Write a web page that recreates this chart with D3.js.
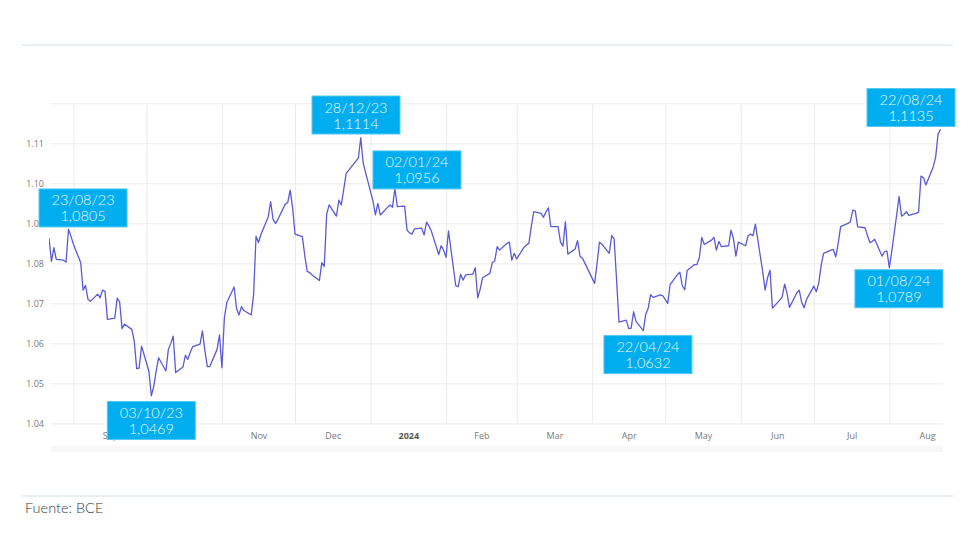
<!DOCTYPE html>
<html><head><meta charset="utf-8">
<script src="https://cdn.jsdelivr.net/npm/d3@7"></script>
<style>
body{margin:0;background:#fff}
svg{display:block}
</style>
</head><body>
<svg id="chart" width="980" height="560"></svg>
<script>
// ---------------- DATA ----------------
const dates = [
"2023-08-22","2023-08-23","2023-08-24","2023-08-25","2023-08-28","2023-08-29","2023-08-30","2023-08-31",
"2023-09-01","2023-09-04","2023-09-05","2023-09-06","2023-09-07","2023-09-08","2023-09-11","2023-09-12","2023-09-13","2023-09-14","2023-09-15","2023-09-18","2023-09-19","2023-09-20","2023-09-21","2023-09-22","2023-09-25","2023-09-26","2023-09-27","2023-09-28","2023-09-29",
"2023-10-02","2023-10-03","2023-10-04","2023-10-05","2023-10-06","2023-10-09","2023-10-10","2023-10-11","2023-10-12","2023-10-13","2023-10-16","2023-10-17","2023-10-18","2023-10-19","2023-10-20","2023-10-23","2023-10-24","2023-10-25","2023-10-26","2023-10-27","2023-10-30","2023-10-31",
"2023-11-01","2023-11-02","2023-11-03","2023-11-06","2023-11-07","2023-11-08","2023-11-09","2023-11-10","2023-11-13","2023-11-14","2023-11-15","2023-11-16","2023-11-17","2023-11-20","2023-11-21","2023-11-22","2023-11-23","2023-11-24","2023-11-27","2023-11-28","2023-11-29","2023-11-30",
"2023-12-01","2023-12-04","2023-12-05","2023-12-06","2023-12-07","2023-12-08","2023-12-11","2023-12-12","2023-12-13","2023-12-14","2023-12-15","2023-12-18","2023-12-19","2023-12-20","2023-12-21","2023-12-22","2023-12-27","2023-12-28","2023-12-29",
"2024-01-02","2024-01-03","2024-01-04","2024-01-05","2024-01-08","2024-01-09","2024-01-10","2024-01-11","2024-01-12","2024-01-15","2024-01-16","2024-01-17","2024-01-18","2024-01-19","2024-01-22","2024-01-23","2024-01-24","2024-01-25","2024-01-26","2024-01-29","2024-01-30","2024-01-31",
"2024-02-01","2024-02-02","2024-02-05","2024-02-06","2024-02-07","2024-02-08","2024-02-09","2024-02-12","2024-02-13","2024-02-14","2024-02-15","2024-02-16","2024-02-19","2024-02-20","2024-02-21","2024-02-22","2024-02-23","2024-02-26","2024-02-27","2024-02-28","2024-02-29",
"2024-03-01","2024-03-04","2024-03-05","2024-03-06","2024-03-07","2024-03-08","2024-03-11","2024-03-12","2024-03-13","2024-03-14","2024-03-15","2024-03-18","2024-03-19","2024-03-20","2024-03-21","2024-03-22","2024-03-25","2024-03-26","2024-03-27","2024-03-28",
"2024-04-02","2024-04-03","2024-04-04","2024-04-05","2024-04-08","2024-04-09","2024-04-10","2024-04-11","2024-04-12","2024-04-15","2024-04-16","2024-04-17","2024-04-18","2024-04-19","2024-04-22","2024-04-23","2024-04-24","2024-04-25","2024-04-26","2024-04-29","2024-04-30",
"2024-05-02","2024-05-03","2024-05-06","2024-05-07","2024-05-08","2024-05-09","2024-05-10","2024-05-13","2024-05-14","2024-05-15","2024-05-16","2024-05-17","2024-05-20","2024-05-21","2024-05-22","2024-05-23","2024-05-24","2024-05-27","2024-05-28","2024-05-29","2024-05-30","2024-05-31",
"2024-06-03","2024-06-04","2024-06-05","2024-06-06","2024-06-07","2024-06-10","2024-06-11","2024-06-12","2024-06-13","2024-06-14","2024-06-17","2024-06-18","2024-06-19","2024-06-20","2024-06-21","2024-06-24","2024-06-25","2024-06-26","2024-06-27","2024-06-28",
"2024-07-01","2024-07-02","2024-07-03","2024-07-04","2024-07-05","2024-07-08","2024-07-09","2024-07-10","2024-07-11","2024-07-12","2024-07-15","2024-07-16","2024-07-17","2024-07-18","2024-07-19","2024-07-22","2024-07-23","2024-07-24","2024-07-25","2024-07-26","2024-07-29","2024-07-30","2024-07-31",
"2024-08-01","2024-08-02","2024-08-05","2024-08-06","2024-08-07","2024-08-08","2024-08-09","2024-08-12","2024-08-13","2024-08-14","2024-08-15","2024-08-16","2024-08-19","2024-08-20","2024-08-21","2024-08-22"
];
const rates = [
1.0863,1.0805,1.0839,1.0810,1.0808,1.0803,1.0885,1.0868,
1.0848,1.0802,1.0733,1.0745,1.0710,1.0705,1.0723,1.0714,1.0733,1.0730,1.0660,1.0663,1.0713,1.0703,1.0637,1.0648,1.0635,1.0606,1.0537,1.0538,1.0593,
1.0531,1.0469,1.0492,1.0531,1.0564,1.0531,1.0585,1.0600,1.0618,1.0527,1.0541,1.0570,1.0560,1.0578,1.0592,1.0598,1.0631,1.0582,1.0542,1.0542,1.0585,1.0621,
1.0539,1.0664,1.0702,1.0741,1.0687,1.0671,1.0692,1.0682,1.0671,1.0722,1.0868,1.0852,1.0872,1.0916,1.0954,1.0910,1.0900,1.0910,1.0948,1.0952,1.0983,1.0940,
1.0873,1.0867,1.0820,1.0780,1.0777,1.0771,1.0757,1.0802,1.0792,1.0923,1.0946,1.0918,1.0958,1.0946,1.0985,1.1025,1.1063,1.1114,1.1050,
1.0956,1.0921,1.0950,1.0921,1.0940,1.0946,1.0940,1.0987,1.0942,1.0943,1.0883,1.0876,1.0873,1.0886,1.0888,1.0871,1.0903,1.0893,1.0880,1.0822,1.0844,1.0833,
1.0815,1.0881,1.0744,1.0742,1.0773,1.0758,1.0771,1.0773,1.0789,1.0714,1.0735,1.0764,1.0775,1.0802,1.0806,1.0842,1.0833,1.0850,1.0853,1.0808,1.0825,
1.0811,1.0840,1.0846,1.0850,1.0892,1.0929,1.0925,1.0915,1.0928,1.0939,1.0892,1.0892,1.0853,1.0843,1.0904,1.0823,1.0836,1.0857,1.0818,1.0813,
1.0750,1.0800,1.0853,1.0848,1.0825,1.0869,1.0861,1.0760,1.0653,1.0658,1.0637,1.0638,1.0679,1.0655,1.0632,1.0673,1.0688,1.0722,1.0715,1.0721,1.0719,
1.0700,1.0747,1.0772,1.0778,1.0744,1.0734,1.0782,1.0797,1.0797,1.0815,1.0865,1.0847,1.0858,1.0865,1.0833,1.0855,1.0842,1.0844,1.0883,1.0861,1.0818,1.0853,
1.0844,1.0869,1.0873,1.0869,1.0898,1.0780,1.0733,1.0764,1.0783,1.0688,1.0708,1.0716,1.0748,1.0725,1.0690,1.0726,1.0733,1.0703,1.0689,1.0710,
1.0743,1.0729,1.0750,1.0795,1.0825,1.0833,1.0835,1.0816,1.0850,1.0892,1.0900,1.0904,1.0933,1.0931,1.0891,1.0889,1.0870,1.0852,1.0855,1.0860,1.0818,1.0829,1.0831,
1.0789,1.0830,1.0967,1.0918,1.0922,1.0929,1.0920,1.0925,1.0928,1.1018,1.1014,1.0996,1.1041,1.1065,1.1123,1.1135
];
const yTickValues = [1.04,1.05,1.06,1.07,1.08,1.09,1.10,1.11];
const monthLabels = ["Sep","Oct","Nov","Dec","2024","Feb","Mar","Apr","May","Jun","Jul","Aug"];
const annDates  = ["2023-08-23","2023-10-03","2023-12-28","2024-01-02","2024-04-22","2024-08-01","2024-08-22"];
const annValues = [1.0805,1.0469,1.1114,1.0956,1.0632,1.0789,1.1135];
const annDateLabels  = ["23/08/23","03/10/23","28/12/23","02/01/24","22/04/24","01/08/24","22/08/24"];
const annValueLabels = ["1,0805","1,0469","1,1114","1,0956","1,0632","1,0789","1,1135"];
const sourceText = "Fuente: BCE";

// ---------------- LAYOUT ----------------
const W = 980, H = 560;
const plot = {left:51, right:943, top:103.3, bottom:423.4};
// annotation box centre offsets from the point (px)
const annOffsets = [[31.6,-53.4],[0,24.7],[-4.8,-22.7],[44,-31],[4.6,24],[9.6,21],[-29.5,-21.8]];
const boxW = 88, boxH = 38;

const parse = d3.utcParse("%Y-%m-%d");
const series = dates.map((d,i)=>({date:parse(d), value:rates[i]}));

const x = d3.scaleUtc()
  .domain([parse("2023-08-22"), parse("2024-08-22")])
  .range([49, 940.5]);
const y = d3.scaleLinear().domain([1.04,1.12]).range([plot.bottom, plot.top]);

const svg = d3.select("#chart");
svg.append("rect").attr("width",W).attr("height",H).attr("fill","#fff");

// frame lines
svg.append("line").attr("x1",22).attr("x2",953).attr("y1",45).attr("y2",45)
  .attr("stroke","#d3e3df").attr("stroke-width",1.2);
svg.append("line").attr("x1",22).attr("x2",953).attr("y1",496).attr("y2",496)
  .attr("stroke","#d3e3df").attr("stroke-width",1.2);

// range strip under the axis
svg.append("rect").attr("x",plot.left).attr("y",446).attr("width",plot.right-plot.left).attr("height",6)
  .attr("fill","#f7f7f7");

// horizontal grid + y labels
const yAxis = d3.axisLeft(y)
  .tickValues(yTickValues.concat([1.12]))
  .tickSize(-(plot.right-plot.left))
  .tickPadding(7)
  .tickFormat(v => yTickValues.some(t=>Math.abs(t-v)<1e-9) ? d3.format(".2f")(v) : "");
const gy = svg.append("g").attr("transform",`translate(${plot.left},0)`).call(yAxis);
gy.select(".domain").remove();
gy.selectAll(".tick line").attr("stroke","#ebebeb").attr("stroke-width",1);
gy.selectAll(".tick text").attr("fill","#7a7a7a").style("font-family","'Open Sans', sans-serif").style("font-size","9px");

// vertical grid at month starts
const monthStarts = d3.utcMonth.range(parse("2023-09-01"), parse("2024-08-02"));
const gx = svg.append("g").attr("transform",`translate(0,${plot.bottom})`)
  .call(d3.axisBottom(x).tickValues(monthStarts).tickSize(-(plot.bottom-plot.top)).tickFormat(""));
gx.select(".domain").remove();
gx.selectAll(".tick line").attr("stroke","#ebebeb").attr("stroke-width",1);

// month labels at mid-month
const mids = monthStarts.map(m => new Date((+m + +d3.utcMonth.offset(m,1))/2));
const gl = svg.append("g").attr("transform",`translate(0,${plot.bottom})`)
  .call(d3.axisBottom(x).tickValues(mids).tickSize(0).tickPadding(9.5).tickFormat((d,i)=>monthLabels[i]));
gl.select(".domain").remove();
gl.selectAll(".tick text").style("font-family","'Open Sans', sans-serif").style("font-size","9px")
  .style("font-weight",(d,i)=>monthLabels[i]==="2024"?"bold":"normal")
  .attr("fill",(d,i)=>monthLabels[i]==="2024"?"#555":"#7a7a7a");

// line
svg.append("clipPath").attr("id","clip").append("rect")
  .attr("x",plot.left-2).attr("y",plot.top-5).attr("width",plot.right-plot.left+4).attr("height",plot.bottom-plot.top+10);
svg.append("path").datum(series)
  .attr("clip-path","url(#clip)")
  .attr("fill","none").attr("stroke","#5a5ad8").attr("stroke-width",1.3).attr("stroke-linejoin","round")
  .attr("d", d3.line().x(d=>x(d.date)).y(d=>y(d.value)));

// annotations
const ann = svg.append("g");
annDates.forEach((d,i)=>{
  const cx = x(parse(d)) + annOffsets[i][0];
  const cy = y(annValues[i]) + annOffsets[i][1];
  const g = ann.append("g").attr("transform",`translate(${cx},${cy})`);
  g.append("rect").attr("x",-boxW/2).attr("y",-boxH/2).attr("width",boxW).attr("height",boxH)
    .attr("fill","#00aeef").attr("stroke","#55c8f3").attr("stroke-width",1);
  const t = g.append("text").attr("text-anchor","middle").attr("fill","#eaf7fd")
    .style("font-family","Lato, sans-serif").style("font-weight","300").style("font-size","14.5px");
  t.append("tspan").attr("x",0).attr("y",-2.5).text(annDateLabels[i]);
  t.append("tspan").attr("x",0).attr("y",13.5).text(annValueLabels[i]);
});

// source
svg.append("text").attr("x",25).attr("y",513).text(sourceText)
  .attr("fill","#3a3a3a").style("font-family","Lato, sans-serif").style("font-weight","300").style("font-size","14.5px");
</script>
</body></html>
